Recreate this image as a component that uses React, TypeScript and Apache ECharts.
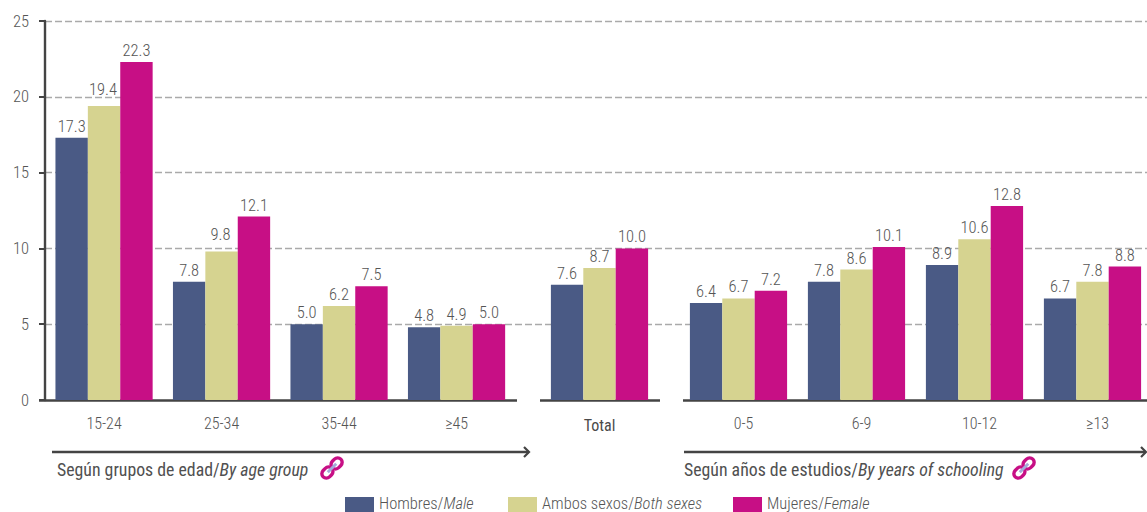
import React, { useEffect, useRef } from "react";
import * as echarts from "echarts";

const ageCategories = ["15-24", "25-34", "35-44", "≥45"];
const totalCategories = ["Total"];
const schoolCategories = ["0-5", "6-9", "10-12", "≥13"];
const yTicks = { min: 0, max: 25, interval: 5 };

const maleName = "Hombres/Male";
const bothName = "Ambos sexos/Both sexes";
const femaleName = "Mujeres/Female";

const ageMale = [17.3, 7.8, 5.0, 4.8];
const ageBoth = [19.4, 9.8, 6.2, 4.9];
const ageFemale = [22.3, 12.1, 7.5, 5.0];
const totalMale = [7.6];
const totalBoth = [8.7];
const totalFemale = [10.0];
const schoolMale = [6.4, 7.8, 8.9, 6.7];
const schoolBoth = [6.7, 8.6, 10.6, 7.8];
const schoolFemale = [7.2, 10.1, 12.8, 8.8];

const BLUE = "#4a5a85";
const KHAKI = "#d6d390";
const MAGENTA = "#c70f85";
const DARK = "#444444";
const TEXT = "#555555";
const FONT = "'Roboto Condensed', 'Liberation Sans', sans-serif";
const BAR_W = 32.4;
const TOP = 21;
const HEIGHT = 379;
// Labels that sit higher above their bars in the reference.
const raisedLabels: Record<number, number> = { 19.4: -5, 9.8: -5 };
// Swatch drawn in the lower part of the legend's symbol box, so the text sits slightly above its centre.
const SWATCH = "path://M0,0L0,0M0,2H29V17H0Z";

const legendRich = (size: number, color: string) => ({
  a: { fontFamily: FONT, fontSize: size, color, fontWeight: 300, lineHeight: 15 },
  b: { fontFamily: FONT, fontSize: size, color, fontStyle: "italic", fontWeight: 300, lineHeight: 15 },
});

const captionRich = (size: number, color: string) => ({
  a: { fontFamily: FONT, fontSize: size, fill: color },
  b: { fontFamily: FONT, fontSize: size, fill: color, fontStyle: "italic" },
});

const splitName = (name: string) => {
  const [es, en] = name.split("/");
  return `{a|${es}/}{b|${en}}`;
};

function link(cx: number, cy: number) {
  const stroke = { fill: "transparent", stroke: MAGENTA, lineWidth: 3.4 };
  return {
    type: "group",
    x: cx,
    y: cy,
    rotation: Math.PI / 4,
    silent: true,
    children: [
      { type: "rect", shape: { x: -12.5, y: -4.5, width: 12, height: 9, r: 4.5 }, style: stroke },
      { type: "rect", shape: { x: 0.5, y: -4.5, width: 12, height: 9, r: 4.5 }, style: stroke },
      { type: "line", shape: { x1: -6, y1: 0, x2: 6, y2: 0 }, style: { stroke: "#a4aada", lineWidth: 3 } },
    ],
  };
}

function hline(x1: number, x2: number, y: number) {
  return {
    type: "line",
    silent: true,
    shape: { x1, y1: y, x2, y2: y },
    style: { stroke: DARK, lineWidth: 2.4 },
  };
}

function arrow(x1: number, x2: number, y: number) {
  return [
    hline(x1, x2, y),
    {
      type: "polyline",
      silent: true,
      shape: { points: [[x2 - 5, y - 5], [x2, y], [x2 - 5, y + 5]] },
      style: { stroke: DARK, lineWidth: 2.2, fill: "transparent" },
    },
  ];
}

function caption(x: number, y: number, es: string, en: string) {
  return {
    type: "text",
    silent: true,
    x,
    y,
    style: {
      text: `{a|${es}/}{b|${en}}`,
      rich: captionRich(17.8, "#505050"),
      verticalAlign: "middle",
    },
  };
}

function bars(name: string, color: string, data: number[], axis: number) {
  return {
    type: "bar",
    name,
    data: data.map((value) =>
      raisedLabels[value] ? { value, label: { offset: [-1, raisedLabels[value]] } } : value
    ),
    xAxisIndex: axis,
    yAxisIndex: axis,
    barWidth: BAR_W,
    barGap: "0%",
    itemStyle: { color },
    label: {
      show: true,
      position: "top",
      distance: 3,
      formatter: (p: any) => Number(p.value).toFixed(1),
      color: TEXT,
      fontFamily: FONT,
      fontWeight: 300,
      fontSize: 16.5,
      textBorderWidth: 0,
    },
  };
}

function catAxis(gridIndex: number, data: string[], opts: any = {}) {
  return {
    type: "category",
    gridIndex,
    data,
    axisLine: { show: false },
    axisTick: { show: false },
    axisLabel: { color: TEXT, fontFamily: FONT, fontWeight: 300, fontSize: 16, margin: 15, ...opts },
  };
}

function hiddenY(gridIndex: number) {
  return { type: "value", gridIndex, min: yTicks.min, max: yTicks.max, show: false };
}

function legend(name: string, left: number) {
  return {
    left,
    top: 495,
    padding: 0,
    data: [name],
    icon: SWATCH,
    itemWidth: 29,
    itemHeight: 17,
    itemGap: 0,
    itemStyle: { borderWidth: 0 },
    selectedMode: false,
    formatter: splitName,
    textStyle: { rich: legendRich(16.5, TEXT) },
  };
}

const gridBase = { top: TOP, height: HEIGHT, outerBoundsMode: "none" };

export default function App() {
  const ref = useRef<HTMLDivElement>(null);

  useEffect(() => {
    const chart = echarts.init(ref.current!, undefined, { renderer: "svg" });
    chart.setOption({
      animation: false,
      backgroundColor: "#ffffff",
      grid: [
        { ...gridBase, left: 45, width: 1102 },
        { ...gridBase, left: 45.3, width: 470 },
        { ...gridBase, left: 540, width: 119 },
        { ...gridBase, left: 679.5, width: 472 },
      ],
      xAxis: [
        { type: "value", gridIndex: 0, min: 0, max: 1, show: false },
        catAxis(1, ageCategories),
        catAxis(2, totalCategories, { color: "#4a4a4a", margin: 17, fontWeight: 400 }),
        catAxis(3, schoolCategories, { padding: [0, 0, 0, 10] }),
      ],
      yAxis: [
        {
          type: "value",
          gridIndex: 0,
          min: yTicks.min,
          max: yTicks.max,
          interval: yTicks.interval,
          axisLine: { show: true, lineStyle: { color: DARK, width: 2.4 } },
          axisTick: { show: true, length: 6, lineStyle: { color: DARK, width: 2 } },
          axisLabel: { color: TEXT, fontFamily: FONT, fontWeight: 300, fontSize: 16.5, margin: 16 },
          splitLine: {
            show: true,
            showMinLine: false,
            lineStyle: { color: "#aaaaaa", type: [7, 3], width: 1.3 },
          },
        },
        hiddenY(1),
        hiddenY(2),
        hiddenY(3),
      ],
      legend: [legend(maleName, 345), legend(bothName, 508), legend(femaleName, 733)],
      series: [
        bars(maleName, BLUE, ageMale, 1),
        bars(bothName, KHAKI, ageBoth, 1),
        bars(femaleName, MAGENTA, ageFemale, 1),
        bars(maleName, BLUE, totalMale, 2),
        bars(bothName, KHAKI, totalBoth, 2),
        bars(femaleName, MAGENTA, totalFemale, 2),
        bars(maleName, BLUE, schoolMale, 3),
        bars(bothName, KHAKI, schoolBoth, 3),
        bars(femaleName, MAGENTA, schoolFemale, 3),
      ],
      graphic: [
        hline(39, 517, 400.5),
        hline(540, 660, 400.5),
        hline(683, 1147, 400.5),
        ...arrow(52, 529, 452),
        ...arrow(684, 1146, 452),
        caption(57, 469, "Según grupos de edad", "By age group"),
        caption(684, 469, "Según años de estudios", "By years of schooling"),
        link(332, 468),
        link(1024, 468),
      ],
    });
    return () => chart.dispose();
  }, []);

  return (
    <div
      ref={ref}
      style={{ position: "fixed", left: 0, top: 0, width: 1147, height: 512 }}
    />
  );
}
